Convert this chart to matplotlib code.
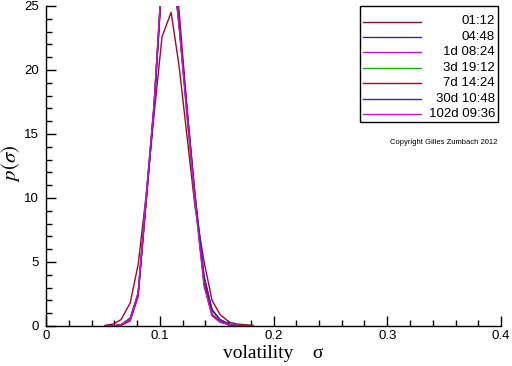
import matplotlib
matplotlib.use("Agg")
import matplotlib.pyplot as plt
from matplotlib.ticker import MultipleLocator, FixedLocator
from matplotlib.patches import Rectangle
from matplotlib.lines import Line2D

plt.rcParams['mathtext.fontset'] = 'stix'
plt.rcParams['font.family'] = ['Liberation Sans', 'DejaVu Sans']

# ---------------- data ----------------
sigma = [0.052, 0.059, 0.066, 0.074, 0.081, 0.088, 0.095, 0.102, 0.110, 0.117,
         0.124, 0.131, 0.139, 0.146, 0.153, 0.161, 0.168, 0.175, 0.182]

p_0112 = [0.05, 0.15, 0.5, 1.8, 4.8, 10.2, 16.5, 22.6, 24.5, 20.3,
          14.8, 9.3, 5.0, 2.0, 0.9, 0.3, 0.15, 0.1, 0.05]
p_0448 = [0.0, 0.0, 0.1, 0.6, 2.5, 9.8, 17.1, 27.3, 29.4, 23.6,
          16.8, 10.2, 3.8, 1.2, 0.5, 0.15, 0.03, 0.0, 0.0]
p_1d = [0.0, 0.0, 0.1, 0.5, 2.6, 10.0, 17.3, 27.5, 29.5, 23.5,
        16.5, 9.8, 3.2, 0.8, 0.3, 0.1, 0.02, 0.0, 0.0]
p_3d = [0.0, 0.0, 0.1, 0.5, 2.5, 9.9, 17.2, 27.4, 29.6, 23.7,
        16.6, 9.9, 3.4, 0.9, 0.35, 0.1, 0.02, 0.0, 0.0]
p_7d = [0.0, 0.0, 0.05, 0.4, 2.3, 9.6, 17.0, 27.0, 30.0, 24.6,
        17.0, 10.0, 3.4, 0.9, 0.35, 0.1, 0.02, 0.0, 0.0]
p_30d = [0.0, 0.0, 0.1, 0.6, 2.5, 9.8, 17.1, 27.2, 29.3, 23.6,
         16.9, 10.3, 3.9, 1.3, 0.5, 0.15, 0.03, 0.0, 0.0]
p_102d = [0.0, 0.0, 0.1, 0.5, 2.6, 10.1, 17.4, 27.6, 29.4, 23.4,
          16.4, 9.7, 3.1, 0.8, 0.3, 0.1, 0.02, 0.0, 0.0]

labels = ["01:12", "04:48", "1d 08:24", "3d 19:12", "7d 14:24", "30d 10:48", "102d 09:36"]
series = [p_0112, p_0448, p_1d, p_3d, p_7d, p_30d, p_102d]
colors = ["#9a0a2a", "#3a2a9a", "#d010d0", "#10b010", "#9a0a2a", "#3a2a9a", "#d010d0"]

xticks = [0, 0.1, 0.2, 0.3, 0.4]
xticklabels = ["0", "0.1", "0.2", "0.3", "0.4"]
yticks = [0, 5, 10, 15, 20, 25]
yticklabels = ["0", "5", "10", "15", "20", "25"]

# ---------------- figure ----------------
W, H = 512, 366
fig = plt.figure(figsize=(W/100, H/100), dpi=100)
ax = fig.add_axes([46/W, 1-326/H, (501-46)/W, (326-6)/H])

for y, lab, c in zip(series, labels, colors):
    ax.plot(sigma, y, color=c, lw=1.0, label=lab)

ax.set_xlim(0, 0.4)
ax.set_ylim(0, 25)
ax.xaxis.set_major_locator(FixedLocator(xticks))
ax.set_xticklabels(xticklabels)
ax.yaxis.set_major_locator(FixedLocator(yticks))
ax.set_yticklabels(yticklabels)
ax.xaxis.set_minor_locator(MultipleLocator(0.02))
ax.yaxis.set_minor_locator(MultipleLocator(1))
ax.tick_params(which='both', direction='in', top=False, right=False,
               labelsize=9.5, width=1, color='black')
ax.tick_params(which='major', length=7, pad=3)
ax.tick_params(which='minor', length=4)
ax.tick_params(axis='y', pad=5)
for s in ['top', 'right']:
    ax.spines[s].set_visible(False)
for s in ['left', 'bottom']:
    ax.spines[s].set_linewidth(1)

ax.set_xlabel("volatility    σ", family=['Liberation Serif', 'DejaVu Serif'],
              fontsize=14, labelpad=2)
ax.set_ylabel(r"$p(\sigma)$", fontsize=15)
ax.yaxis.set_label_coords((22-46)/455, (326-163)/320)

# ---------------- legend (manual, right-aligned labels) ----------------
def fx(px):
    return px / W

def fy(py):
    return 1 - py / H

box_l, box_r, box_t, box_b = 360, 498, 6, 122
fig.add_artist(Rectangle((fx(box_l), fy(box_b)), fx(box_r) - fx(box_l), fy(box_t) - fy(box_b),
                         transform=fig.transFigure, facecolor='white',
                         edgecolor='black', lw=1, zorder=5))
row0, drow = 21.5, 15.45
for i, (lab, c) in enumerate(zip(labels, colors)):
    yy = row0 + i * drow
    fig.add_artist(Line2D([fx(363), fx(421)], [fy(yy), fy(yy)], transform=fig.transFigure,
                          color=c, lw=1.0, zorder=6))
    fig.text(fx(495), fy(yy), lab, fontsize=9.5, ha='right', va='center', zorder=6)

fig.text(fx(444), fy(143), "Copyright Gilles Zumbach 2012", fontsize=5.5,
         ha='center', va='center')

fig.savefig("out.png", dpi=100)
